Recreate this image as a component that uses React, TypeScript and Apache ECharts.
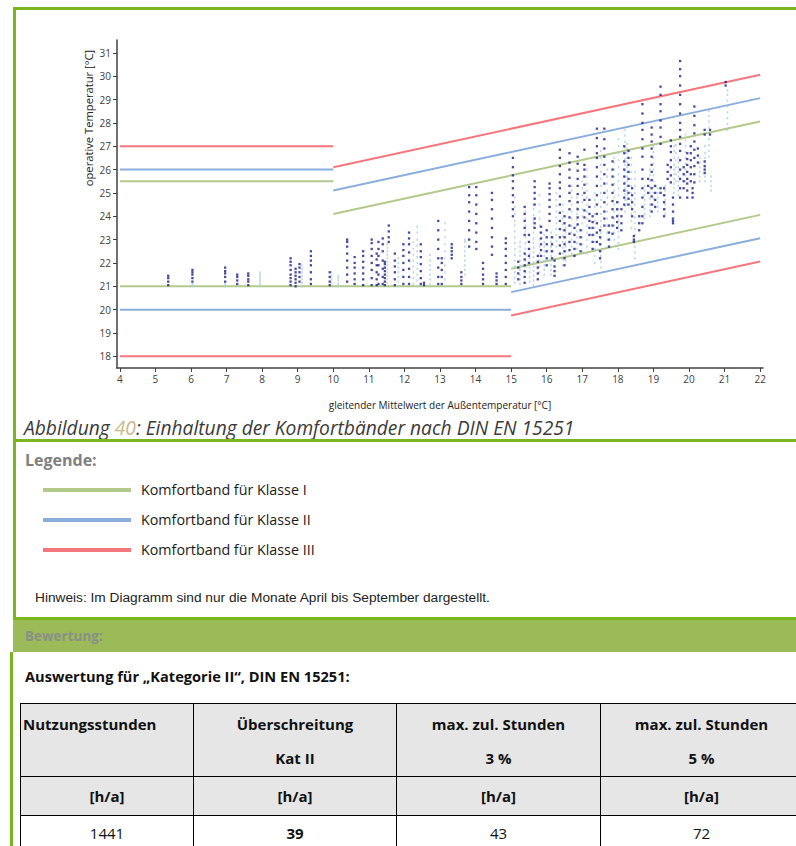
import React, { useEffect, useRef } from "react";
import * as echarts from "echarts";

// ---- axis ticks ----
const xTicks = [4, 5, 6, 7, 8, 9, 10, 11, 12, 13, 14, 15, 16, 17, 18, 19, 20, 21, 22];
const yTicks = [18, 19, 20, 21, 22, 23, 24, 25, 26, 27, 28, 29, 30, 31];

// ---- comfort band segments (x pairs) ----
const flatLowX = [4, 15];
const flatHighX = [4, 10];
const slopeHighX = [10, 22];
const slopeLowX = [15, 22];

// Klasse I (green)
const k1FlatLow = [21, 21];
const k1FlatHigh = [25.5, 25.5];
const k1SlopeHigh = [24.1, 28.06];
const k1SlopeLow = [21.75, 24.06];
// Klasse II (blue)
const k2FlatLow = [20, 20];
const k2FlatHigh = [26, 26];
const k2SlopeHigh = [25.1, 29.06];
const k2SlopeLow = [20.75, 23.06];
// Klasse III (red)
const k3FlatLow = [18, 18];
const k3FlatHigh = [27, 27];
const k3SlopeHigh = [26.1, 30.06];
const k3SlopeLow = [19.75, 22.06];

// ---- measured points: columns [running mean, operative temperatures] ----
const darkCols: Array<[number, number[]]> = [
  [5.36, [21.05, 21.2, 21.35, 21.45]],
  [6.04, [21.2, 21.35, 21.5, 21.6, 21.7]],
  [6.96, [21.2, 21.4, 21.55, 21.65, 21.8]],
  [7.3, [21.1, 21.25, 21.4, 21.5]],
  [7.61, [21.05, 21.2, 21.3, 21.45, 21.55]],
  [8.8, [21.05, 21.2, 21.35, 21.5, 21.7, 21.9, 22.05, 22.2]],
  [8.94, [21.0, 21.15, 21.3, 21.45, 21.6, 21.75]],
  [9.05, [21.2, 21.4, 21.6, 21.8, 21.95]],
  [9.37, [21.1, 21.3, 21.6, 21.9, 22.1, 22.3, 22.5]],
  [9.9, [21.05, 21.2, 21.4, 21.6]],
  [10.39, [21.2, 21.5, 21.8, 22.1, 22.4, 22.7, 22.9, 23.0]],
  [10.6, [21.1, 21.3, 21.55, 21.8, 22.0, 22.25]],
  [10.84, [21.05, 21.3, 21.55, 21.8, 22.05, 22.3, 22.5]],
  [11.08, [21.05, 21.35, 21.7, 22.0, 22.3, 22.6, 22.85, 23.0]],
  [11.22, [21.05, 21.3, 21.6, 21.9, 22.15, 22.4]],
  [11.27, [21.1, 21.5, 21.9, 22.3, 22.6, 22.9]],
  [11.39, [21.1, 21.4, 21.75, 22.1, 22.5, 22.8, 23.05]],
  [11.45, [21.05, 21.2, 21.35, 21.5, 21.65, 21.8, 21.95, 22.05]],
  [11.56, [22.9, 23.1, 23.35, 23.6]],
  [11.73, [21.05, 21.3, 21.6, 21.85, 22.1, 22.4]],
  [11.97, [21.1, 21.4, 21.7, 22.0, 22.3, 22.55, 22.8]],
  [12.13, [21.1, 21.4, 21.75, 22.1, 22.45, 22.8, 23.05, 23.3]],
  [12.46, [21.1, 21.35, 21.65, 21.95, 22.25, 22.5, 22.8]],
  [12.55, [21.05, 21.15]],
  [12.95, [21.1, 21.4, 21.8, 22.2, 22.6, 23.0, 23.4, 23.8]],
  [13.05, [21.1, 21.4, 21.7, 22.0, 22.2]],
  [13.33, [22.2, 22.35, 22.5, 22.65, 22.8]],
  [13.6, [21.1, 21.25, 21.4, 21.6]],
  [13.82, [22.7, 23.0, 23.4, 23.8, 24.2, 24.6, 24.9, 25.25]],
  [14.02, [22.6, 22.9, 23.3, 23.7, 24.1, 24.5, 24.9, 25.25]],
  [14.21, [21.1, 21.3, 21.5, 21.75, 22.0]],
  [14.46, [22.35, 22.7, 23.1, 23.5, 23.9, 24.3, 24.7, 25.0]],
  [14.59, [21.1, 21.25, 21.4, 21.55]],
  [14.85, [21.1, 21.4, 21.7, 22.0, 22.3, 22.6, 22.85, 23.05]],
  [15.05, [24.0, 24.3, 24.6, 24.9, 25.2, 25.5, 25.75, 26.1, 26.5]],
  [15.2, [21.3, 21.55, 21.8, 22.05]],
  [15.38, [21.15, 21.4, 21.65, 21.9, 22.15, 22.4, 23.2, 23.5, 23.8, 24.1, 24.4]],
  [15.5, [22.0, 22.3, 22.6, 22.9, 23.2]],
  [15.66, [23.5, 23.7, 23.9, 24.5, 24.75, 25.0, 25.25, 25.5]],
  [15.75, [21.3, 21.55, 21.8, 22.05, 22.3]],
  [15.84, [22.3, 22.55, 22.8, 23.05, 23.3, 23.55]],
  [16.0, [21.9, 22.2, 22.5, 22.8, 23.1, 23.4]],
  [16.08, [23.8, 24.1, 24.4, 24.7, 24.95, 25.2, 25.4]],
  [16.15, [22.2, 22.5, 22.8, 23.1]],
  [16.22, [21.45, 21.65, 21.85, 22.1]],
  [16.37, [22.4, 22.75, 23.1, 23.45, 23.8, 24.15, 24.5, 24.85, 25.2, 25.45, 25.8, 26.15, 26.5, 26.85]],
  [16.5, [21.9, 22.2, 22.5, 22.8, 23.1, 23.4, 23.7, 24.0]],
  [16.64, [22.55, 22.9, 23.25, 23.6, 23.95, 24.3, 24.65, 25.0, 25.3, 25.65, 26.0, 26.3, 26.7]],
  [16.78, [22.3, 22.6, 22.9, 23.2, 23.5]],
  [16.87, [23.65, 23.95, 24.3, 24.6, 24.95, 25.3, 25.6, 25.95, 26.25, 26.55]],
  [16.95, [22.5, 22.8, 23.1, 23.4]],
  [17.06, [23.95, 24.25, 24.7, 25.0, 25.35, 25.7, 26.0, 26.2, 26.85]],
  [17.2, [23.2, 23.5, 23.8, 24.1, 24.4, 24.7]],
  [17.29, [22.6, 22.9, 23.2, 23.5, 23.75, 24.0]],
  [17.41, [22.9, 23.3, 23.7, 24.1, 24.5, 24.9, 25.3, 25.7, 26.1, 26.5, 26.7, 27.0, 27.35, 27.75]],
  [17.5, [22.2, 22.5, 22.8, 23.1, 23.4]],
  [17.62, [23.6, 23.9, 24.2, 24.6, 25.0, 25.4, 25.8, 26.2, 26.55, 26.9, 27.3, 27.75]],
  [17.75, [22.7, 23.0, 23.3, 23.6]],
  [17.85, [23.25, 23.6, 23.95, 24.3, 24.65, 25.0, 25.35, 25.7, 26.0, 26.35]],
  [17.98, [23.5, 23.75, 24.0, 24.3, 24.6]],
  [18.1, [23.4, 23.7, 24.0, 24.3]],
  [18.18, [24.5, 24.8, 25.1, 25.4, 25.7, 26.0, 26.35, 26.7, 27.0]],
  [18.3, [24.5, 24.75, 25.0, 25.3, 25.6, 25.9, 26.2, 26.5, 26.8]],
  [18.4, [24.0, 24.3, 24.6, 24.9, 25.2]],
  [18.45, [22.9, 23.0, 23.15]],
  [18.6, [23.4, 23.7, 24.0]],
  [18.69, [23.7, 24.0, 24.4, 24.8, 25.2, 25.6, 26.0, 26.55, 26.9, 27.3, 27.7, 28.0, 28.4, 28.8]],
  [18.85, [25.0, 25.3, 25.6]],
  [18.95, [24.2, 24.5, 24.85, 25.2, 25.55, 25.9, 26.2, 26.55, 26.9, 27.2, 27.5, 27.8]],
  [19.05, [24.4, 24.7, 25.0, 25.3]],
  [19.2, [25.0, 25.2, 27.1, 27.4, 27.8, 28.1, 28.5, 28.8, 29.2, 29.55]],
  [19.3, [24.0, 24.3, 24.6, 24.9, 25.2]],
  [19.4, [25.6, 25.9, 26.2]],
  [19.49, [25.45, 25.75, 26.1, 26.4, 26.75, 27.0, 27.25]],
  [19.55, [23.7, 23.8, 23.9, 24.2, 24.5, 24.8]],
  [19.75, [24.8, 25.2, 25.6, 26.0, 26.4, 26.8, 27.1, 27.4, 27.7, 28.0, 28.4, 28.8, 29.2, 29.6, 30.0, 30.3, 30.65]],
  [19.85, [25.2, 25.5, 25.8, 26.1]],
  [19.95, [24.8, 25.1, 25.4, 25.6, 25.9, 26.2, 26.45, 26.7]],
  [20.05, [25.5, 25.8, 26.1, 26.4, 26.7, 27.0]],
  [20.1, [24.8, 25.0, 25.2]],
  [20.15, [25.45, 25.8, 26.15, 26.5, 26.85, 27.2, 27.55, 27.9, 28.3, 28.7]],
  [20.25, [26.3, 26.6, 26.9]],
  [20.44, [25.85, 26.0, 26.15, 26.35, 27.5, 27.7]],
  [20.59, [27.5, 27.7]],
  [21.03, [29.6, 29.75]],
];

const lightCols: Array<[number, number[]]> = [
  [6.04, [21.0, 21.05, 21.1]],
  [6.96, [21.0, 21.1]],
  [7.94, [21.0, 21.1, 21.2, 21.3, 21.4, 21.5, 21.6]],
  [9.12, [21.0, 21.15, 21.3, 21.45, 21.6, 21.75, 21.9]],
  [9.95, [21.0, 21.15, 21.3, 21.45, 21.6]],
  [10.14, [21.0, 21.1, 21.25, 21.35, 21.45]],
  [11.52, [21.0, 21.15, 21.3, 21.45, 21.6, 21.75, 21.9, 22.05, 22.2, 22.35, 22.5, 22.65, 22.8]],
  [11.83, [21.0, 21.2, 21.4, 21.6, 21.8, 22.0, 22.2]],
  [12.25, [21.1, 21.35, 21.6, 21.85, 22.1, 22.35, 22.6, 22.9]],
  [12.36, [21.0, 21.25, 21.5, 21.75, 22.0, 22.25, 22.5, 22.75, 23.0, 23.3, 23.55]],
  [12.72, [21.1, 21.3, 21.5, 21.7, 21.9, 22.1, 22.35]],
  [13.14, [21.0, 21.3, 21.6, 21.9, 22.2, 22.5, 22.8, 23.1, 23.4, 23.7]],
  [13.7, [21.5, 21.7, 21.9, 22.1, 22.3, 22.5, 22.7, 22.9, 23.0]],
  [15.1, [21.15, 21.35, 21.6, 21.85, 22.1, 22.35, 22.6, 22.85, 23.1, 23.35, 23.6, 23.8, 24.1, 24.4, 24.8]],
  [15.25, [21.1, 21.3, 21.5, 21.7, 21.9, 22.1, 22.3, 22.5, 22.7, 22.9]],
  [15.4, [21.6, 21.85, 22.1, 22.35, 22.6, 22.85, 23.1, 23.35, 23.6, 23.9, 24.2]],
  [15.52, [21.2, 21.4, 21.6, 21.8, 22.0, 22.2, 22.4, 22.6]],
  [15.63, [21.05, 21.25, 21.45, 21.65, 21.85, 22.05, 22.25, 22.45, 22.65, 22.85, 23.05, 23.3, 23.55, 23.8, 24.05, 24.3, 24.5]],
  [15.8, [21.6, 21.85, 22.1, 22.4, 22.7, 23.0, 23.3, 23.6, 23.9, 24.2, 24.5, 24.9]],
  [15.93, [21.5, 21.7, 21.9, 22.1, 22.3, 22.5, 22.7, 22.9, 23.2]],
  [16.12, [21.5, 21.7, 21.9, 22.1, 22.3, 22.5, 22.7, 22.9, 23.1, 23.3]],
  [16.27, [22.7, 22.95, 23.2, 23.45, 23.7, 23.95, 24.2, 24.45, 24.7, 25.0]],
  [16.45, [21.9, 22.15, 22.4, 22.65, 22.9, 23.15, 23.4, 23.65, 23.9, 24.2, 24.5]],
  [16.53, [22.1, 22.3, 22.5, 22.7, 22.9, 23.1, 23.3, 23.5]],
  [16.7, [22.4, 22.7, 23.0, 23.3, 23.6, 23.9, 24.2, 24.5, 24.8, 25.1, 25.3]],
  [16.85, [22.6, 22.85, 23.1, 23.35, 23.6, 23.85, 24.1, 24.35, 24.6, 24.8]],
  [17.0, [22.5, 22.8, 23.1, 23.4, 23.7, 24.0, 24.3, 24.6, 24.9, 25.2, 25.5]],
  [17.13, [22.4, 22.7, 23.0, 23.3, 23.6, 23.9, 24.2, 24.5, 24.8, 25.1, 25.4, 25.7, 26.0]],
  [17.35, [22.0, 22.3, 22.6, 22.9, 23.2, 23.5, 23.8, 24.1, 24.4, 24.7, 25.0]],
  [17.52, [21.8, 22.05, 22.3, 22.55, 22.8, 23.05, 23.3, 23.55, 23.8, 24.1, 24.4, 24.7, 25.0, 25.3, 25.6, 25.9, 26.2, 26.5, 26.8]],
  [17.7, [23.0, 23.3, 23.6, 23.9, 24.2, 24.5, 24.8, 25.1, 25.4, 25.7, 26.0]],
  [17.9, [23.0, 23.3, 23.6, 23.9, 24.2, 24.5, 24.8, 25.1, 25.4, 25.7, 26.0, 26.3, 26.5]],
  [18.02, [22.6, 22.85, 23.1, 23.35, 23.6, 23.85, 24.05, 24.3, 24.6, 24.9, 25.2, 25.5, 25.8, 26.1, 26.4, 26.7, 27.0, 27.3]],
  [18.2, [24.2, 24.45, 24.7, 24.95, 25.2, 25.45, 25.7, 25.95, 26.2, 26.45, 26.7, 26.95, 27.2, 27.45, 27.7]],
  [18.26, [24.5, 24.7, 24.9, 25.1, 25.3, 25.5, 25.7, 25.9, 26.1, 26.3, 26.5, 26.7, 26.9, 27.1]],
  [18.38, [23.5, 23.8, 24.1, 24.4, 24.7, 25.0, 25.3, 25.6, 25.9, 26.2, 26.5]],
  [18.48, [22.2, 22.45, 22.7, 22.95, 23.2, 23.45, 23.7, 23.95, 24.2, 24.5, 24.75, 25.0, 25.3, 25.6, 25.9]],
  [18.75, [23.9, 24.1, 24.3, 24.5, 24.7, 24.9, 25.1, 25.3]],
  [18.9, [24.0, 24.25, 24.5, 24.75, 25.0, 25.25, 25.5, 25.75, 26.0]],
  [19.0, [24.5, 24.75, 25.0, 25.25, 25.5, 25.75, 26.0, 26.25, 26.5, 26.75, 27.0]],
  [19.12, [24.2, 24.4, 24.6, 24.8, 25.0, 25.2]],
  [19.33, [24.1, 24.3, 24.5, 24.7, 24.9, 25.1, 25.3]],
  [19.58, [25.0, 25.2, 25.4, 25.6, 25.8, 26.0, 26.2, 26.5, 26.8, 27.0]],
  [19.63, [25.5, 25.8, 26.1, 26.4, 26.7, 27.05]],
  [19.7, [24.9, 25.1, 25.3, 25.5, 25.7, 25.9, 26.1, 26.3, 26.5]],
  [19.9, [25.5, 25.75, 26.0, 26.25, 26.5, 26.75, 27.0, 27.25, 27.5]],
  [20.3, [25.5, 25.7, 25.9, 26.1, 26.3, 26.5]],
  [20.45, [25.5, 25.7, 25.9, 26.1, 26.3, 26.5, 26.7, 27.0]],
  [20.56, [26.55, 26.8, 27.05, 27.3, 27.55, 27.8, 28.05, 28.3, 28.5]],
  [20.62, [25.1, 25.3, 25.5, 25.7]],
  [21.08, [27.7, 27.95, 28.2, 28.45, 28.7, 28.95, 29.2, 29.4]],
];

const GREEN = "#b2c98a";
const BLUE = "#8aaedc";
const RED = "#f5777c";
const DARK = "#1c1c86";
const LIGHT = "#a9d0e2";
const BORDER_GREEN = "#7ab51d";

const seg = (xs: number[], ys: number[]) => xs.map((x, i) => [x, ys[i]]);
const flatten = (cols: Array<[number, number[]]>) =>
  cols.flatMap(([x, ys]) => ys.map((y) => [x, y]));

function lineSeries(color: string, segments: Array<[number[], number[]]>) {
  return segments.map(([xs, ys]) => ({
    type: "line",
    data: seg(xs, ys),
    symbol: "none",
    lineStyle: { color, width: 2 },
    z: 2,
    silent: true,
  }));
}

function Chart() {
  const ref = useRef<HTMLDivElement>(null);
  useEffect(() => {
    if (!ref.current) return;
    const chart = echarts.init(ref.current, null, { renderer: "svg" });
    const axisColor = "#404040";
    chart.setOption({
      animation: false,
      textStyle: { fontFamily: "Open Sans" },
      grid: { left: 117, top: 40, width: 646, height: 338, containLabel: false },
      xAxis: {
        type: "value",
        min: 3.92,
        max: 22.08,
        splitLine: { show: false },
        axisLine: { show: true, onZero: false, lineStyle: { color: axisColor, width: 1.5 } },
        axisTick: { show: true, length: 4, customValues: xTicks, lineStyle: { color: axisColor } },
        axisLabel: { customValues: xTicks, fontSize: 10, color: axisColor, margin: 6 },
        name: "gleitender Mittelwert der Außentemperatur [°C]",
        nameLocation: "middle",
        nameGap: 32,
        nameTextStyle: { fontSize: 10, color: "#222" },
      },
      yAxis: {
        type: "value",
        min: 17.5,
        max: 31.55,
        splitLine: { show: false },
        axisLine: { show: true, onZero: false, lineStyle: { color: axisColor, width: 1.5 } },
        axisTick: { show: true, length: 4, customValues: yTicks, lineStyle: { color: axisColor } },
        axisLabel: { customValues: yTicks, fontSize: 10, color: axisColor, margin: 6 },
      },
      graphic: [
        {
          type: "text",
          x: 88,
          y: 118,
          rotation: Math.PI / 2,
          style: {
            text: "operative Temperatur [°C]",
            fontSize: 11.2,
            fontFamily: "Open Sans",
            fill: "#222",
            align: "center",
            verticalAlign: "middle",
          },
        },
      ],
      series: [
        ...lineSeries(GREEN, [
          [flatLowX, k1FlatLow],
          [flatHighX, k1FlatHigh],
          [slopeHighX, k1SlopeHigh],
          [slopeLowX, k1SlopeLow],
        ]),
        ...lineSeries(BLUE, [
          [flatLowX, k2FlatLow],
          [flatHighX, k2FlatHigh],
          [slopeHighX, k2SlopeHigh],
          [slopeLowX, k2SlopeLow],
        ]),
        ...lineSeries(RED, [
          [flatLowX, k3FlatLow],
          [flatHighX, k3FlatHigh],
          [slopeHighX, k3SlopeHigh],
          [slopeLowX, k3SlopeLow],
        ]),
        {
          type: "scatter",
          data: flatten(lightCols),
          symbol: "rect",
          symbolSize: [1.6, 2.2],
          itemStyle: { color: LIGHT },
          z: 3,
          silent: true,
        },
        {
          type: "scatter",
          data: flatten(darkCols),
          symbol: "rect",
          symbolSize: [2.3, 2.3],
          itemStyle: { color: DARK },
          z: 4,
          silent: true,
        },
      ],
    });
    return () => chart.dispose();
  }, []);
  return <div ref={ref} style={{ position: "absolute", left: 0, top: 0, width: 796, height: 415 }} />;
}

const legendItems = [
  { label: "Komfortband für Klasse I", color: GREEN },
  { label: "Komfortband für Klasse II", color: BLUE },
  { label: "Komfortband für Klasse III", color: RED },
];

const tableHeader = ["Nutzungsstunden", "Überschreitung", "max. zul. Stunden", "max. zul. Stunden"];
const tableHeader2 = ["", "Kat II", "3 %", "5 %"];
const tableUnits = ["[h/a]", "[h/a]", "[h/a]", "[h/a]"];
const tableValues = ["1441", "39", "43", "72"];
const colWidths = [173, 203, 204, 202];

export default function App() {
  const abs = (s: React.CSSProperties): React.CSSProperties => ({ position: "absolute", ...s });
  const docFont = "'Open Sans', 'Noto Sans', sans-serif";
  const cell: React.CSSProperties = {
    border: "1px solid #000",
    padding: 0,
    fontFamily: docFont,
    fontSize: 15,
    color: "#111",
    textAlign: "center",
    boxSizing: "border-box",
    whiteSpace: "nowrap",
  };
  return (
    <div style={{ position: "absolute", left: 0, top: 0, width: 796, height: 846, overflow: "hidden", background: "#fff" }}>
      <Chart />
      {/* frame lines */}
      <div style={abs({ left: 13, top: 7, width: 783, height: 3, background: BORDER_GREEN })} />
      <div style={abs({ left: 13, top: 7, width: 3, height: 613, background: BORDER_GREEN })} />
      <div style={abs({ left: 10, top: 652, width: 3, height: 194, background: BORDER_GREEN })} />

      <div style={abs({ left: 24, top: 415, fontFamily: docFont, fontStyle: "italic", fontSize: 19.2, color: "#3a3a3a", whiteSpace: "nowrap", lineHeight: "26px" })}>
        Abbildung <span style={{ color: "#c8b78a" }}>40</span>: Einhaltung der Komfortbänder nach DIN EN 15251
      </div>
      <div style={abs({ left: 13, top: 439, width: 783, height: 3, background: BORDER_GREEN })} />

      <div style={abs({ left: 25, top: 449, fontFamily: docFont, fontWeight: 700, fontSize: 16, color: "#808080", lineHeight: "22px" })}>Legende:</div>
      {legendItems.map((it, i) => (
        <React.Fragment key={it.label}>
          <div style={abs({ left: 43, top: 488 + i * 30, width: 88, height: 4, background: it.color })} />
          <div style={abs({ left: 141, top: 479 + i * 30, fontFamily: docFont, fontSize: 14.3, color: "#1a1a1a", lineHeight: "22px", whiteSpace: "nowrap" })}>{it.label}</div>
        </React.Fragment>
      ))}
      <div style={abs({ left: 35, top: 590, fontFamily: "'Liberation Sans', Arial, sans-serif", fontSize: 13.7, color: "#222", lineHeight: "16px", whiteSpace: "nowrap" })}>
        Hinweis: Im Diagramm sind nur die Monate April bis September dargestellt.
      </div>

      <div style={abs({ left: 13, top: 617, width: 783, height: 3, background: BORDER_GREEN })} />
      <div style={abs({ left: 13, top: 620, width: 783, height: 32, background: "#9bbb59" })} />
      <div style={abs({ left: 25, top: 626, fontFamily: docFont, fontWeight: 700, fontSize: 13.5, color: "#8a8f86", lineHeight: "20px" })}>Bewertung:</div>

      <div style={abs({ left: 25, top: 665, fontFamily: docFont, fontWeight: 700, fontSize: 14.6, color: "#111", lineHeight: "22px", whiteSpace: "nowrap" })}>
        Auswertung für „Kategorie II“, DIN EN 15251:
      </div>

      <table style={abs({ left: 20, top: 703, borderCollapse: "collapse", tableLayout: "fixed", width: colWidths.reduce((a, b) => a + b, 0) })}>
        <colgroup>
          {colWidths.map((w, i) => (
            <col key={i} style={{ width: w }} />
          ))}
        </colgroup>
        <tbody>
          <tr style={{ height: 73, background: "#e6e6e6" }}>
            {tableHeader.map((h, i) => (
              <td key={i} style={{ ...cell, fontWeight: 700, verticalAlign: "top", textAlign: i === 0 ? "left" : "center", paddingTop: 3, lineHeight: "34px", paddingLeft: i === 0 ? 2 : 0 }}>
                {h}
                {tableHeader2[i] ? <br /> : null}
                {tableHeader2[i]}
              </td>
            ))}
          </tr>
          <tr style={{ height: 39, background: "#e6e6e6" }}>
            {tableUnits.map((u, i) => (
              <td key={i} style={{ ...cell, fontWeight: 700 }}>{u}</td>
            ))}
          </tr>
          <tr style={{ height: 34, background: "#fff" }}>
            {tableValues.map((v, i) => (
              <td key={i} style={{ ...cell, fontWeight: i === 1 ? 700 : 400 }}>{v}</td>
            ))}
          </tr>
        </tbody>
      </table>
    </div>
  );
}
